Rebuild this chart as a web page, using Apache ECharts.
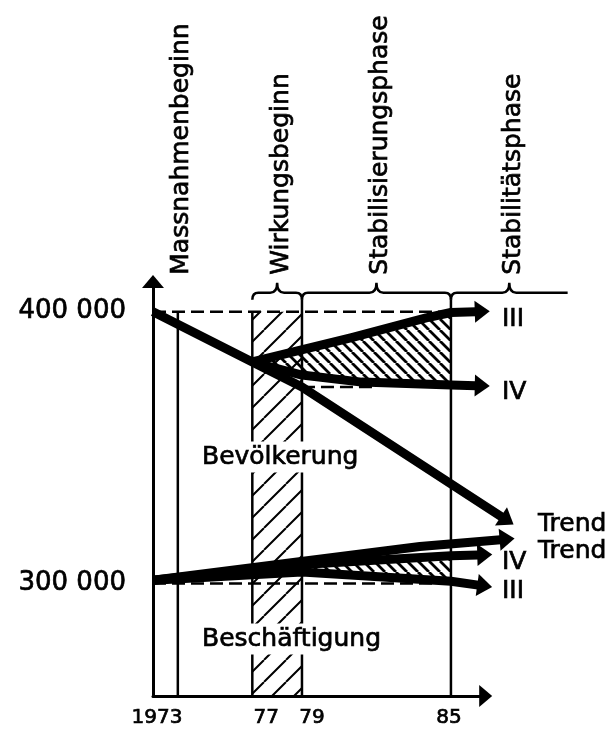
<!DOCTYPE html>
<html><head><meta charset="utf-8">
<script src="https://cdn.jsdelivr.net/npm/echarts@6/dist/echarts.min.js"></script>
<style>html,body{margin:0;padding:0;background:#fff}#c{width:609px;height:729px}</style>
</head><body><div id="c"></div>
<script>
// ---------------- data ----------------
const xTickValues = [1973, 1977, 1979, 1985];
const xTickLabels = ['1973', '77', '79', '85'];
const yTickValues = [300000, 400000];
const yTickLabels = ['300 000', '400 000'];

// Bevölkerung (population)
const popTrend = [[1973, 400000], [1977, 381500], [1979, 372300], [1987.05, 324500]];
const popIII   = [[1977, 381500], [1981, 390500], [1984, 397700], [1985, 399700], [1986.0, 400000]];
const popIV    = [[1977, 381500], [1979, 376700], [1981.4, 374100], [1985, 373000], [1986.0, 372800]];
// Beschäftigung (employment)
const empTrend = [[1973, 301200], [1983.75, 313600], [1987.0, 316100]];
const empIV    = [[1973, 301200], [1979, 307000], [1985, 310200], [1986.1, 310500]];
const empIII   = [[1973, 301200], [1979, 304200], [1985, 300800], [1986.1, 299400]];

const baseLevels = [400000, 300000];           // dashed reference levels
const baseEnd = 1985;
const refIV = [[1979, 372300], [1982, 372300]]; // short dashed reference
const markerYears = [1974, 1977, 1979, 1985];
const markerTops  = [400000, 400000, 404400, 404400];
const effectBand = [1977, 1979];
const hatchUpper = [1977, 1985];
const hatchLower = [1979, 1985];

const phaseNames = ['Massnahmenbeginn', 'Wirkungsbeginn', 'Stabilisierungsphase', 'Stabilitätsphase'];
const phaseSpans = [[1974, 1974], [1977, 1979], [1979, 1985], [1985, 1989.7]];

const xMin = 1973, xMax = 1986.4, yMin = 258610, yMax = 411110;
// --------------------------------------

const FONT = 'DejaVu Sans';
const TEXT_STROKE = 0.7;
function hatch(size, lw, dir) {
  const c = document.createElement('canvas');
  c.width = size; c.height = size;
  const g = c.getContext('2d');
  g.strokeStyle = '#000'; g.lineWidth = lw;
  g.beginPath();
  for (let k = -1; k <= 1; k++) {
    if (dir === '/') { g.moveTo(k * size, size); g.lineTo(k * size + size, 0); }
    else { g.moveTo(k * size, 0); g.lineTo(k * size + size, size); }
  }
  g.stroke();
  return { image: c, repeat: 'repeat' };
}
const bandPattern = hatch(22, 2, '/');
const densePattern = hatch(11, 2.8, '\\');

function interp(arr, x) {
  for (let i = 0; i < arr.length - 1; i++) {
    const a = arr[i], b = arr[i + 1];
    if (x >= a[0] && x <= b[0]) return a[1] + (b[1] - a[1]) * (x - a[0]) / (b[0] - a[0]);
  }
  return arr[arr.length - 1][1];
}
function between(upper, lower, a, b) {
  const top = [[a, interp(upper, a)]].concat(upper.filter(p => p[0] > a && p[0] < b), [[b, interp(upper, b)]]);
  const bot = [[a, interp(lower, a)]].concat(lower.filter(p => p[0] > a && p[0] < b), [[b, interp(lower, b)]]);
  return top.concat(bot.reverse());
}
const polyUpper = between(popIII, popIV, hatchUpper[0], hatchUpper[1]);
const polyLower = between(empIV, empIII, hatchLower[0], hatchLower[1]);
const bandPoly = [[effectBand[0], 400000], [effectBand[1], 400000], [effectBand[1], yMin], [effectBand[0], yMin]];

function polySeries(poly, fill, z) {
  return {
    type: 'custom', coordinateSystem: 'cartesian2d', z, silent: true,
    data: [poly[0]],
    renderItem: (params, api) => ({
      type: 'polygon',
      shape: { points: poly.map(p => api.coord(p)) },
      style: { fill: fill, stroke: null }
    })
  };
}
function polyline(data, width, dash, z) {
  return {
    type: 'custom', coordinateSystem: 'cartesian2d', z, silent: true,
    data: [data[0]],
    renderItem: (params, api) => ({
      type: 'polyline',
      shape: { points: data.map(p => api.coord(p)) },
      style: { stroke: '#000', fill: null, lineWidth: width, lineDash: dash || null, lineCap: 'butt', lineJoin: 'round' }
    })
  };
}

const arrowLines = [popIII, popIV, popTrend, empTrend, empIV, empIII];
const series = [];
series.push(polySeries(bandPoly, bandPattern, 1));
markerYears.forEach((x, i) => series.push(polyline([[x, markerTops[i]], [x, yMin]], 2.5, null, 2)));
baseLevels.forEach(v => series.push(polyline([[xMin, v], [baseEnd, v]], 2.5, [13, 6], 2)));
series.push(polyline(refIV, 2.5, [13, 6], 2));
series.push(polySeries(polyUpper, densePattern, 3));
series.push(polySeries(polyLower, densePattern, 3));
arrowLines.forEach(l => series.push(polyline(l, 9, null, 4)));
// arrow heads
series.push({
  type: 'custom', coordinateSystem: 'cartesian2d', z: 5, silent: true,
  encode: { x: [0, 2], y: [1, 3] },
  data: arrowLines.map(l => { const p = l[l.length - 2], q = l[l.length - 1]; return [p[0], p[1], q[0], q[1]]; }),
  renderItem: (params, api) => {
    const a = api.coord([api.value(0), api.value(1)]);
    const b = api.coord([api.value(2), api.value(3)]);
    let dx = b[0] - a[0], dy = b[1] - a[1];
    const L = Math.hypot(dx, dy); dx /= L; dy /= L;
    const nx = -dy, ny = dx, len = 14, hw = 11;
    const bx = b[0] - dx, by = b[1] - dy;
    return {
      type: 'polygon',
      shape: { points: [[b[0] + dx * len, b[1] + dy * len], [bx + nx * hw, by + ny * hw], [bx - nx * hw, by - ny * hw]] },
      style: { fill: '#000' }
    };
  }
});
// braces + rotated phase labels
series.push({
  type: 'custom', coordinateSystem: 'cartesian2d', z: 5, silent: true,
  encode: { x: [0, 1] },
  data: phaseSpans.map((s, i) => [s[0], s[1], i]),
  renderItem: (params, api) => {
    const i = api.value(2);
    const p0 = api.coord([api.value(0), 400000]);
    const p1 = api.coord([api.value(1), 400000]);
    const y0 = p0[1];
    const base = y0 - 19, end = y0 - 12, tip = y0 - 29;
    const x0 = p0[0], x1 = p1[0], mid = (x0 + x1) / 2;
    const children = [];
    if (x1 > x0) {
      const open = api.value(1) > xMax;
      let d = `M${x0} ${end} Q${x0} ${base} ${x0 + 6} ${base} L${mid - 7} ${base} Q${mid} ${base} ${mid} ${tip} Q${mid} ${base} ${mid + 7} ${base}`;
      d += open ? ` L${x1} ${base}` : ` L${x1 - 6} ${base} Q${x1} ${base} ${x1} ${end}`;
      children.push({ type: 'path', shape: { pathData: d }, style: { stroke: '#000', lineWidth: 2.5, fill: null } });
    }
    children.push({
      type: 'text', x: mid + 4, y: y0 - 37, rotation: Math.PI / 2,
      style: { text: phaseNames[i], fill: '#000', stroke: '#000', lineWidth: TEXT_STROKE, font: `25px "${FONT}"`, align: 'left', verticalAlign: 'middle' }
    });
    return { type: 'group', children };
  }
});

const txt = (text, x, y, bg) => ({
  type: 'text', x, y, silent: true, z: 20,
  style: Object.assign({
    text, fill: '#000', stroke: '#000', lineWidth: TEXT_STROKE, font: `25px "${FONT}"`,
    textAlign: 'left', textVerticalAlign: 'middle', align: 'left', verticalAlign: 'middle'
  }, bg ? { backgroundColor: '#fff', padding: [3, 2, 3, 2] } : {})
});

const xPads = { '1973': [0, 0, 0, 8], '77': [0, 0, 0, 28], '79': [0, 0, 0, 20], '85': [0, 4, 0, 0] };
const rich = {};
xTickLabels.forEach((l, i) => {
  rich['t' + i] = { fontFamily: FONT, fontSize: 20, color: '#000', padding: xPads[l], textBorderColor: '#000', textBorderWidth: TEXT_STROKE };
});

const chart = echarts.init(document.getElementById('c'), null, { renderer: 'canvas' });
chart.setOption({
  animation: false,
  backgroundColor: '#fff',
  grid: { left: 153, top: 281.5, width: 332.7, height: 414.5, containLabel: false },
  xAxis: {
    type: 'value', min: xMin, max: xMax,
    axisLine: { show: true, onZero: false, symbol: ['none', 'triangle'], symbolSize: [22, 13], lineStyle: { color: '#000', width: 3 } },
    axisTick: { show: false }, splitLine: { show: false },
    axisLabel: {
      customValues: xTickValues, margin: 12, color: '#000', fontFamily: FONT, fontSize: 20, rich,
      textBorderColor: '#000', textBorderWidth: TEXT_STROKE,
      formatter: v => { const i = xTickValues.indexOf(v); return i < 0 ? '' : `{t${i}|${xTickLabels[i]}}`; }
    }
  },
  yAxis: {
    type: 'value', min: yMin, max: yMax,
    axisLine: { show: true, onZero: false, symbol: ['none', 'triangle'], symbolSize: [22, 13], lineStyle: { color: '#000', width: 3 } },
    axisTick: { show: false }, splitLine: { show: false },
    axisLabel: {
      customValues: yTickValues, margin: 27, color: '#000', fontFamily: FONT, fontSize: 26,
      textBorderColor: '#000', textBorderWidth: TEXT_STROKE,
      formatter: v => { const i = yTickValues.indexOf(v); return i < 0 ? '' : yTickLabels[i]; }
    }
  },
  series,
  graphic: [
    txt('III', 502, 319),
    txt('IV', 502, 392),
    txt('Trend', 538, 524),
    txt('Trend', 538, 551),
    txt('IV', 502, 562),
    txt('III', 502, 591),
    txt('Bevölkerung', 200, 457, true),
    txt('Beschäftigung', 200, 639, true)
  ]
});
</script>
</body></html>
